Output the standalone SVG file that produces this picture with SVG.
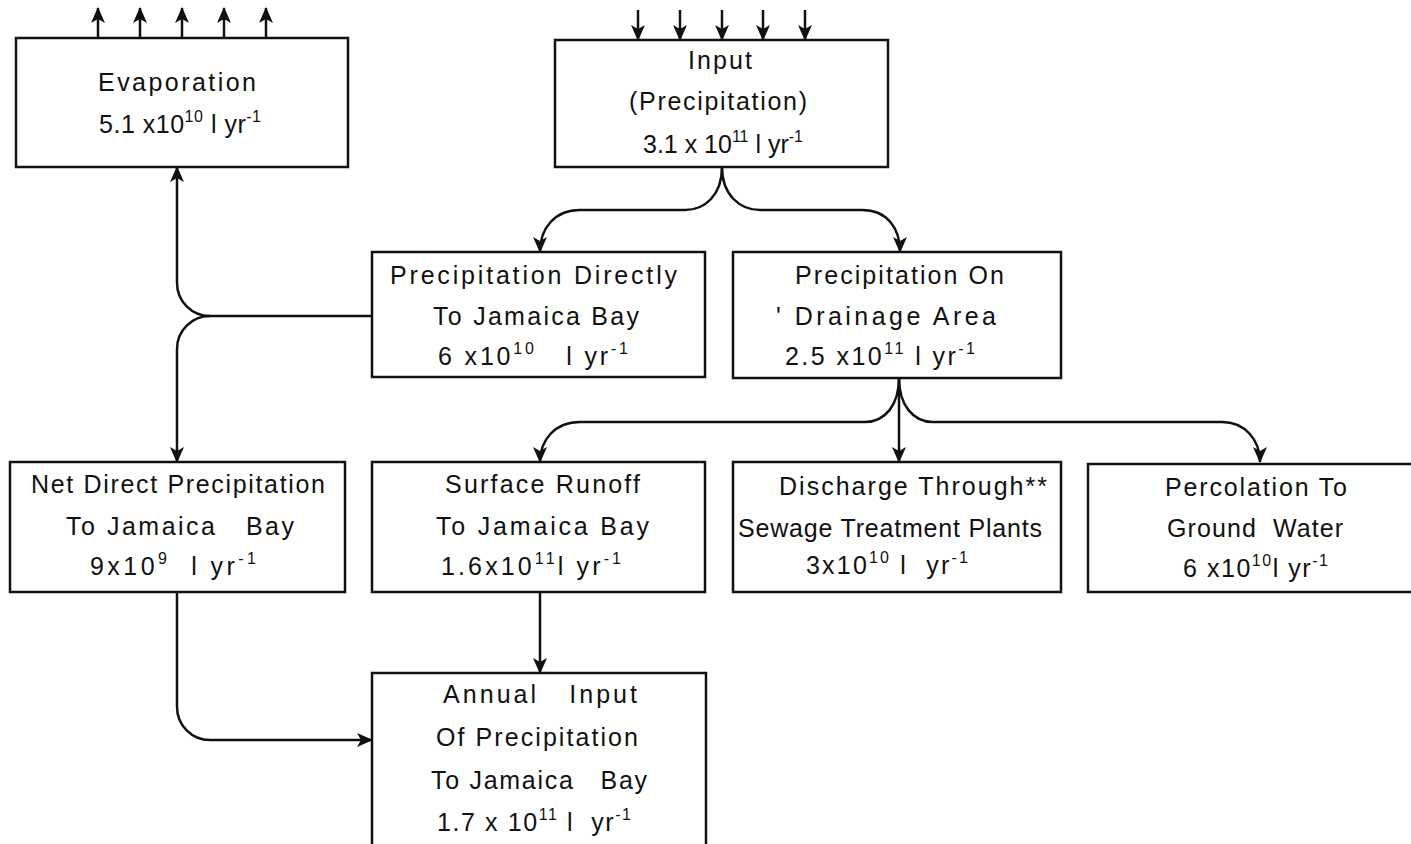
<svg xmlns="http://www.w3.org/2000/svg" width="1411" height="844" viewBox="0 0 1411 844">
<style>
.box{fill:#fff;stroke:#111;stroke-width:2.5}
.t{font-family:"Liberation Sans",Arial,sans-serif;font-size:25px;fill:#111;white-space:pre}
.s{font-size:16px}
.c{fill:none;stroke:#111;stroke-width:2.5}
</style>
<defs>
<marker id="ah" viewBox="0 0 16 14" refX="15" refY="7" markerWidth="16" markerHeight="14" markerUnits="userSpaceOnUse" orient="auto">
<path d="M0,0 L16,7 L0,14 L4,7 z" fill="#111"/>
</marker>
</defs>
<rect width="1411" height="844" fill="#fff"/>

<g id="connectors">
<path class="c" d="M98,38 V8" marker-end="url(#ah)"/>
<path class="c" d="M140,38 V8" marker-end="url(#ah)"/>
<path class="c" d="M182,38 V8" marker-end="url(#ah)"/>
<path class="c" d="M224,38 V8" marker-end="url(#ah)"/>
<path class="c" d="M266,38 V8" marker-end="url(#ah)"/>
<path class="c" d="M638,10 V40" marker-end="url(#ah)"/>
<path class="c" d="M680,10 V40" marker-end="url(#ah)"/>
<path class="c" d="M722,10 V40" marker-end="url(#ah)"/>
<path class="c" d="M763,10 V40" marker-end="url(#ah)"/>
<path class="c" d="M805,10 V40" marker-end="url(#ah)"/>
<path class="c" d="M722,167 C722,195 705,210 685,210 L580,210 C555,210 540,228 540,252" marker-end="url(#ah)"/>
<path class="c" d="M722,167 C722,195 740,210 760,210 L862,210 C887,210 900,228 900,252" marker-end="url(#ah)"/>
<path class="c" d="M372,316 L210,316"/>
<path class="c" d="M210,316 A33,33 0 0 1 177,283 L177,167" marker-end="url(#ah)"/>
<path class="c" d="M210,316 A33,33 0 0 0 177,349 L177,462" marker-end="url(#ah)"/>
<path class="c" d="M899,378 C899,405 885,422 865,422 L580,422 C555,422 540,440 540,462" marker-end="url(#ah)"/>
<path class="c" d="M899,378 V462" marker-end="url(#ah)"/>
<path class="c" d="M899,378 C899,405 913,422 933,422 L1222,422 C1245,422 1260,440 1260,462" marker-end="url(#ah)"/>
<path class="c" d="M540,592 V673" marker-end="url(#ah)"/>
<path class="c" d="M177,592 L177,707 A33,33 0 0 0 210,740 L372,740" marker-end="url(#ah)"/>
</g>

<g id="evaporation">
<rect class="box" x="16" y="38" width="332" height="129"/>
<text class="t" x="98" y="91" textLength="158" lengthAdjust="spacing">Evaporation</text>
<text class="t" x="99" y="133" textLength="162" lengthAdjust="spacing">5.1 x10<tspan class="s" dy="-11">10</tspan><tspan dy="11"> l yr</tspan><tspan class="s" dy="-11">-1</tspan></text>
</g>

<g id="input">
<rect class="box" x="555" y="40" width="333" height="127"/>
<text class="t" x="688" y="69" textLength="64" lengthAdjust="spacing">Input</text>
<text class="t" x="629" y="110" textLength="178" lengthAdjust="spacing">(Precipitation)</text>
<text class="t" x="643" y="153" textLength="160" lengthAdjust="spacing">3.1 x 10<tspan class="s" dy="-11">11</tspan><tspan dy="11"> l yr</tspan><tspan class="s" dy="-11">-1</tspan></text>
</g>

<g id="precip-directly">
<rect class="box" x="372" y="252" width="333" height="125"/>
<text class="t" x="390" y="284" textLength="287" lengthAdjust="spacing">Precipitation Directly</text>
<text class="t" x="433" y="325" textLength="206" lengthAdjust="spacing">To Jamaica Bay</text>
<text class="t" x="438" y="365" textLength="190" lengthAdjust="spacing">6 x10<tspan class="s" dy="-11">10</tspan><tspan dy="11">   l yr</tspan><tspan class="s" dy="-11">-1</tspan></text>
</g>

<g id="precip-drainage">
<rect class="box" x="733" y="252" width="328" height="126"/>
<text class="t" x="795" y="284" textLength="209" lengthAdjust="spacing">Precipitation On</text>
<text class="t" x="776" y="325" textLength="220" lengthAdjust="spacing">' Drainage Area</text>
<text class="t" x="785" y="365" textLength="190" lengthAdjust="spacing">2.5 x10<tspan class="s" dy="-11">11</tspan><tspan dy="11"> l yr</tspan><tspan class="s" dy="-11">-1</tspan></text>
</g>

<g id="net-direct">
<rect class="box" x="10" y="462" width="335" height="130"/>
<text class="t" x="31" y="493" textLength="294" lengthAdjust="spacing">Net Direct Precipitation</text>
<text class="t" x="66" y="535" textLength="228" lengthAdjust="spacing">To Jamaica   Bay</text>
<text class="t" x="90" y="575" textLength="166" lengthAdjust="spacing">9x10<tspan class="s" dy="-11">9</tspan><tspan dy="11">  l yr</tspan><tspan class="s" dy="-11">-1</tspan></text>
</g>

<g id="surface-runoff">
<rect class="box" x="372" y="462" width="333" height="130"/>
<text class="t" x="445" y="493" textLength="195" lengthAdjust="spacing">Surface Runoff</text>
<text class="t" x="436" y="535" textLength="213" lengthAdjust="spacing">To Jamaica Bay</text>
<text class="t" x="441" y="575" textLength="180" lengthAdjust="spacing">1.6x10<tspan class="s" dy="-11">11</tspan><tspan dy="11">l yr</tspan><tspan class="s" dy="-11">-1</tspan></text>
</g>

<g id="discharge">
<rect class="box" x="733" y="462" width="328" height="130"/>
<text class="t" x="779" y="495" textLength="268" lengthAdjust="spacing">Discharge Through**</text>
<text class="t" x="738" y="537" textLength="304" lengthAdjust="spacing">Sewage Treatment Plants</text>
<text class="t" x="806" y="574" textLength="162" lengthAdjust="spacing">3x10<tspan class="s" dy="-11">10</tspan><tspan dy="11"> l  yr</tspan><tspan class="s" dy="-11">-1</tspan></text>
</g>

<g id="percolation">
<rect class="box" x="1088" y="464" width="330" height="128"/>
<text class="t" x="1165" y="496" textLength="182" lengthAdjust="spacing">Percolation To</text>
<text class="t" x="1167" y="537" textLength="176" lengthAdjust="spacing">Ground  Water</text>
<text class="t" x="1183" y="577" textLength="145" lengthAdjust="spacing">6 x10<tspan class="s" dy="-11">10</tspan><tspan dy="11">l yr</tspan><tspan class="s" dy="-11">-1</tspan></text>
</g>

<g id="annual-input">
<rect class="box" x="372" y="673" width="334" height="190"/>
<text class="t" x="443" y="703" textLength="194" lengthAdjust="spacing">Annual   Input</text>
<text class="t" x="436" y="746" textLength="202" lengthAdjust="spacing">Of Precipitation</text>
<text class="t" x="431" y="789" textLength="216" lengthAdjust="spacing">To Jamaica   Bay</text>
<text class="t" x="437" y="831" textLength="194" lengthAdjust="spacing">1.7 x 10<tspan class="s" dy="-11">11</tspan><tspan dy="11"> l  yr</tspan><tspan class="s" dy="-11">-1</tspan></text>
</g>
</svg>
